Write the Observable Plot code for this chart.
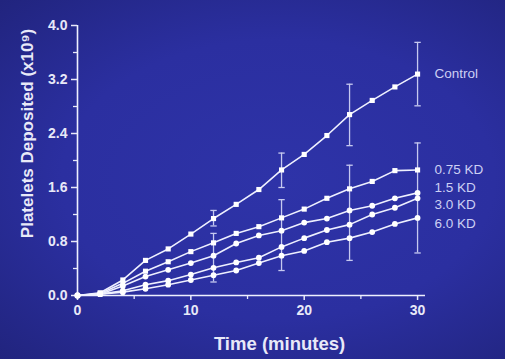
<!DOCTYPE html>
<html><head><meta charset="utf-8">
<script src="https://cdn.jsdelivr.net/npm/d3@7"></script>
<script src="https://cdn.jsdelivr.net/npm/@observablehq/plot@0.6"></script>
<style>
html,body{margin:0;padding:0;background:#22258a;}
#chart{width:505px;height:359px;background:radial-gradient(ellipse at 55% 50%, #2e33a8 0%, #2b2fa0 55%, #21247e 100%);}
#chart svg{display:block;}
</style></head><body><div id="chart"></div>
<script>
const times = [0,2,4,6,8,10,12,14,16,18,20,22,24,26,28,30];
const seriesNames = ["Control","0.75 KD","1.5 KD","3.0 KD","6.0 KD"];
const control = [0,0.04,0.23,0.52,0.69,0.91,1.14,1.35,1.57,1.86,2.09,2.37,2.68,2.89,3.09,3.28];
const kd075   = [0,0.03,0.18,0.36,0.50,0.65,0.78,0.92,1.02,1.15,1.28,1.44,1.58,1.69,1.85,1.86];
const kd15    = [0,0.02,0.14,0.28,0.38,0.48,0.59,0.77,0.89,0.96,1.08,1.14,1.26,1.33,1.44,1.52];
const kd30    = [0,0.02,0.07,0.16,0.22,0.31,0.41,0.49,0.56,0.72,0.85,0.97,1.05,1.20,1.30,1.44];
const kd60    = [0,0.02,0.05,0.10,0.16,0.23,0.30,0.37,0.48,0.59,0.66,0.79,0.85,0.94,1.06,1.15];
const labelValues = [3.29,1.87,1.60,1.35,1.07];

const errTimes    = [12,18,24,30];
const controlLow  = [1.03,1.60,2.22,2.81];
const controlHigh = [1.26,2.11,3.13,3.75];
const groupLow    = [0.20,0.37,0.52,0.63];
const groupHigh   = [0.92,1.42,1.93,2.26];

const yTicks = [0,0.8,1.6,2.4,3.2,4.0];
const yMinor = [0.4,1.2,2.0,2.8,3.6];
const xTicks = [0,10,20,30];
const xMinor = [5,15,25];

const allValues = [control,kd075,kd15,kd30,kd60];
const rows = [];
seriesNames.forEach((name,k) => allValues[k].forEach((v,i) => rows.push({series:name, time:times[i], value:v})));
const errors = [];
errTimes.forEach((t,i) => {
  errors.push({time:t, low:controlLow[i], high:controlHigh[i]});
  errors.push({time:t, low:groupLow[i], high:groupHigh[i]});
});
const caps = errors.flatMap(d => [{time:d.time, v:d.low},{time:d.time, v:d.high}]);
const labels = seriesNames.map((name,i) => ({name, time:times[times.length-1], value:labelValues[i]}));

const hline = {draw(ctx, size){ const w = Math.sqrt(size); ctx.moveTo(-w,0); ctx.lineTo(w,0); }};
const ink = "#eef0ff";
const errInk = "#c6c9f0";

const chart = Plot.plot({
  width:505, height:359,
  marginLeft:77, marginRight:80, marginTop:25, marginBottom:64,
  x:{domain:[0,30.7]},
  y:{domain:[0,4]},
  symbol:{domain:seriesNames, range:["square","square","circle","circle","circle"]},
  style:{background:"transparent", color:"#e8e9f8", fontFamily:"'Liberation Sans', Arial, sans-serif", fontSize:"14px", fontWeight:"bold", overflow:"visible"},
  marks:[
    Plot.axisY({ticks:yTicks, tickFormat:d=>d.toFixed(1), tickSize:6, tickPadding:4, label:null, strokeWidth:1.5}),
    Plot.axisY({ticks:yMinor, tickSize:4, text:null, label:null, strokeWidth:1.3}),
    Plot.axisX({ticks:xTicks, tickSize:5, tickPadding:5, label:null, strokeWidth:1.5}),
    Plot.axisX({ticks:xMinor, tickSize:4, text:null, label:null, strokeWidth:1.3}),
    Plot.ruleX([0], {stroke:ink, strokeWidth:1.6}),
    Plot.ruleY([0], {stroke:ink, strokeWidth:1.6}),
    Plot.ruleX(errors, {x:"time", y1:"low", y2:"high", stroke:errInk, strokeWidth:1.3}),
    Plot.dot(caps, {x:"time", y:"v", symbol:hline, r:1.8, stroke:errInk, strokeWidth:1.3, fill:"none"}),
    Plot.line(rows, {x:"time", y:"value", z:"series", stroke:ink, strokeWidth:1.6}),
    Plot.dot(rows, {x:"time", y:"value", symbol:"series", r:2.9, fill:"#ffffff", stroke:"none"}),
    Plot.text(labels, {x:"time", y:"value", text:"name", textAnchor:"start", dx:17, fill:"#cdd0f4", fontSize:13.5, fontWeight:"normal"}),
    Plot.text(["Time (minutes)"], {frameAnchor:"bottom", textAnchor:"middle", lineAnchor:"middle", dx:28, dy:49, fontSize:18.5, fontWeight:"bold", fill:"#e8e9f8"}),
    Plot.text(["Platelets Deposited (x10⁹)"], {frameAnchor:"left", textAnchor:"middle", lineAnchor:"middle", dx:-50, dy:-27, rotate:-90, fontSize:17, fontWeight:"bold", fill:"#e8e9f8"})
  ]
});
document.getElementById("chart").appendChild(chart);
</script>
</body></html>
